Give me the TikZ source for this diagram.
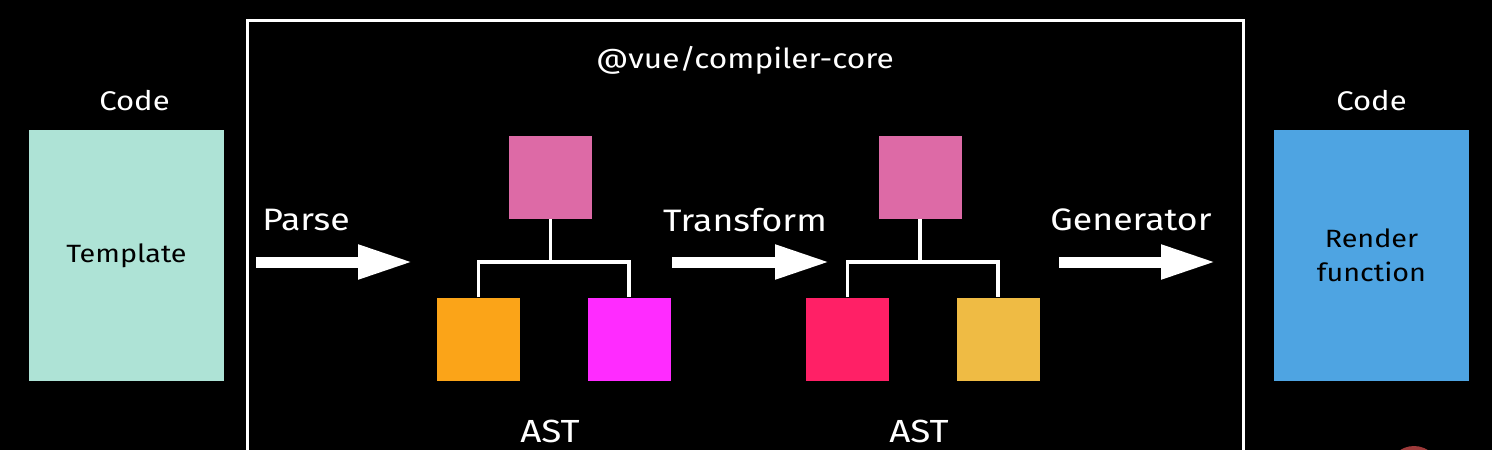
\documentclass[tikz,border=0pt]{standalone}
\usepackage{fontspec}
\setmainfont[FakeStretch=1.15]{Fira Sans}
\usepackage{tikz}
\usetikzlibrary{arrows.meta,positioning}

\definecolor{tealbox}{HTML}{AEE3D6}
\definecolor{bluebox}{HTML}{4EA4E2}
\definecolor{rootpink}{HTML}{DD6AA6}
\definecolor{leaforange}{HTML}{FBA418}
\definecolor{leafmagenta}{HTML}{FF2BFF}
\definecolor{leafcrimson}{HTML}{FF2066}
\definecolor{leafgold}{HTML}{EFBB44}
\definecolor{dotred}{HTML}{9E3A3A}

\begin{document}
\begin{tikzpicture}[
  x=1pt, y=-1pt,
  codebox/.style={minimum width=195pt, minimum height=251pt, inner sep=0pt, align=center,
    text=black, font=\fontsize{25}{34}\selectfont},
  astnode/.style={minimum width=83pt, minimum height=83pt, inner sep=0pt},
  lbl/.style={text=white, font=\fontsize{27}{30}\selectfont},
  stagelbl/.style={lbl, font=\fontsize{31}{34}\selectfont},
  fatarrow/.style={white, line width=11pt, -{Triangle[length=55pt, width=32pt]}},
  tree/.style={white, line width=3.5pt}
]
\fill[black] (0,0) rectangle (1492,450);
\useasboundingbox (0,0) rectangle (1492,450);
\clip (0,0) rectangle (1492,450);

% outer frame of the compiler package
\draw[white, line width=3pt] (247,470) -- (247,20) -- (1243,20) -- (1243,470);
\node[lbl, font=\fontsize{27.5}{30}\selectfont] (pkg) at (745,60) {@vue/compiler-core};

% input and output code
\node[codebox, fill=tealbox] (tmpl) at (126.5,255.5) {Template};
\node[codebox, fill=bluebox] (render) at (1371.5,255.5) {Render\\function};
\node[lbl, above=15pt of tmpl, xshift=8pt] (codein) {Code};
\node[lbl, above=15pt of render] (codeout) {Code};

% first AST
\node[astnode, fill=rootpink] (rootA) at (550.5,177.5) {};
\node[astnode, fill=leaforange] (leftA) at (478.5,339) {};
\node[astnode, fill=leafmagenta] (rightA) at (629,339) {};
\coordinate (joinA) at (550.5,262);
\draw[tree] (rootA) -- (joinA);
\draw[tree] (leftA.north) |- (joinA) -| (rightA.north);
\node[lbl, font=\fontsize{32}{34}\selectfont] (astA) at (550,431) {AST};

% second AST
\node[astnode, fill=rootpink] (rootB) at (920,177.5) {};
\node[astnode, fill=leafcrimson] (leftB) at (847.5,339) {};
\node[astnode, fill=leafgold] (rightB) at (998,339) {};
\coordinate (joinB) at (920,262);
\draw[tree] (rootB) -- (joinB);
\draw[tree] (leftB.north) |- (joinB) -| (rightB.north);
\node[lbl, font=\fontsize{32}{34}\selectfont] (astB) at (919,431) {AST};

% stages
\coordinate (parseS) at (256,262);
\coordinate (parseE) at (413,262);
\draw[fatarrow] (parseS) -- (parseE);
\node[stagelbl] (parse) at (306,220) {Parse};

\coordinate (transS) at (672,262);
\coordinate (transE) at (830,262);
\draw[fatarrow] (transS) -- (transE);
\node[stagelbl] (trans) at (745,220) {Transform};

\coordinate (genS) at (1059,262);
\coordinate (genE) at (1216,262);
\draw[fatarrow] (genS) -- (genE);
\node[stagelbl] (gen) at (1131,220) {Generator};

% red marker at the lower edge
\fill[dotred] (1414,472) circle (26);
\end{tikzpicture}
\end{document}
